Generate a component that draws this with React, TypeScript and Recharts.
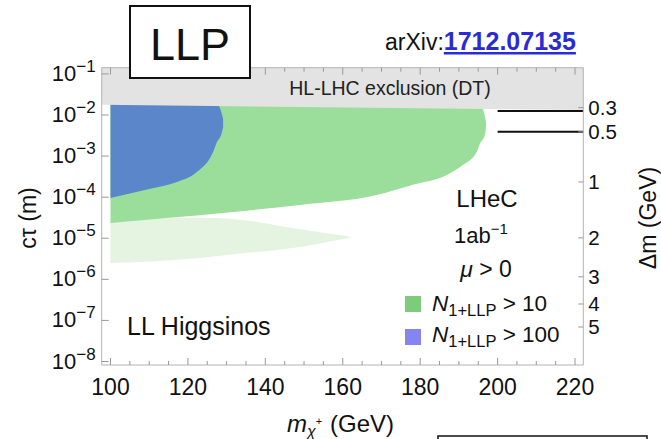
import React from 'react';
import { ComposedChart, Area, XAxis, YAxis, ReferenceLine } from 'recharts';

const FONT = '"Liberation Sans", Arial, Helvetica, sans-serif';

// axis ranges (chargino mass in GeV, log10 of c*tau in metres)
const X_MIN = 97.73;
const X_MAX = 222.14;
const Y_MIN = -8.085;
const Y_MAX = -0.849;

const xTicks = [100, 105, 110, 115, 120, 125, 130, 135, 140, 145, 150, 155, 160, 165, 170, 175, 180, 185, 190, 195, 200, 205, 210, 215, 220];
const yDecades = [-8, -7, -6, -5, -4, -3, -2, -1];

// right axis: mass splitting labels and their log10(c tau) positions
const dmLabels = ['0.3', '0.5', '1', '2', '3', '4', '5'];
const dmLogCt = [-1.82, -2.41, -3.63, -4.99, -5.94, -6.6, -7.16];

// HL-LHC exclusion band (disappearing tracks)
const bandMass = [X_MIN, X_MAX];
const bandLow = [-1.75, -1.88];
const bandHigh = [Y_MAX, Y_MAX];

// N(1+LLP) > 10 region
const greenMass = [100, 114.6, 131.6, 149, 168.8, 178.1, 186.9, 191.0, 194.6, 195.45, 196.7, 197.0];
const greenLow = [-4.63, -4.51, -4.36, -4.19, -3.95, -3.7, -3.46, -3.22, -2.9, -2.7, -2.49, -2.3];
const greenHigh = [-1.72, -1.72, -1.72, -1.72, -1.72, -1.72, -1.72, -1.72, -1.72, -1.72, -2.02, -2.17];

// N(1+LLP) > 100 region
const blueMass = [100, 105, 110, 117.2, 122.3, 126.5, 127.4, 128.7, 129.1];
const blueLow = [-4.02, -3.91, -3.8, -3.63, -3.39, -2.9, -2.68, -2.45, -2.3];
const blueHigh = [-1.72, -1.72, -1.72, -1.72, -1.72, -1.72, -1.72, -1.95, -2.1];

// faint region
const faintMass = [100, 123.1, 131.6, 149, 162.6];
const faintLow = [-5.6, -5.48, -5.39, -5.21, -4.97];
const faintHigh = [-4.55, -4.5, -4.53, -4.78, -4.97];

// contour lines for delta m = 0.3, 0.5
const contourStart = 200;
const contourLogCt = [-1.9, -2.41];

const rows = (ms: number[], lo: number[], hi: number[]) => ms.map((m, i) => ({ m, r: [lo[i], hi[i]] }));

const bandRows = rows(bandMass, bandLow, bandHigh);
const greenRows = rows(greenMass, greenLow, greenHigh);
const blueRows = rows(blueMass, blueLow, blueHigh);
const faintRows = rows(faintMass, faintLow, faintHigh);

const TICK = '#999';
const FRAME = '#b3b3b3';

const BottomTick = (props: any) => {
  const { x, y, payload } = props;
  const v = payload.value;
  const major = v % 20 === 0;
  return (
    <g>
      <line x1={x} x2={x} y1={y} y2={y - (major ? 7 : 4)} stroke={TICK} strokeWidth={1} />
      {major && (
        <text x={x} y={y + 30} textAnchor="middle" fontSize={23} fill="#111" fontFamily={FONT}>
          {v}
        </text>
      )}
    </g>
  );
};

const TopTick = (props: any) => {
  const { x, y, payload } = props;
  const major = payload.value % 20 === 0;
  return <line x1={x} x2={x} y1={y} y2={y + (major ? 7 : 4)} stroke={TICK} strokeWidth={1} />;
};

const LeftTick = (props: any) => {
  const { x, y, payload } = props;
  const v = payload.value;
  return (
    <g>
      <line x1={x} x2={x + 7} y1={y} y2={y} stroke={TICK} strokeWidth={1} />
      <text x={x - 6} y={y + 7} textAnchor="end" fontSize={22} fill="#111" fontFamily={FONT}>
        10
        <tspan fontSize={17} dy={-9}>
          {'\u2212' + Math.abs(v)}
        </tspan>
      </text>
    </g>
  );
};

const RightTick = (props: any) => {
  const { x, y, payload } = props;
  const idx = dmLogCt.indexOf(payload.value);
  return (
    <g>
      <line x1={x} x2={x - 5} y1={y} y2={y} stroke={TICK} strokeWidth={1} />
      <text x={x + 5} y={y + 7} textAnchor="start" fontSize={20.5} fill="#111" fontFamily={FONT}>
        {dmLabels[idx]}
      </text>
    </g>
  );
};

export default function App() {
  return (
    <div style={{ position: 'absolute', left: 0, top: 0, width: 661, height: 439, background: '#fff' }}>
      <ComposedChart
        width={661}
        height={439}
        margin={{ top: 66.7, right: 76.7, bottom: 73, left: 100.7 }}
      >
        <XAxis
          xAxisId="b"
          type="number"
          dataKey="m"
          domain={[X_MIN, X_MAX]}
          allowDataOverflow
          ticks={xTicks}
          interval={0}
          height={1}
          tickSize={0}
          tickMargin={0}
          tick={BottomTick}
          axisLine={{ stroke: FRAME }}
          tickLine={false}
        />
        <XAxis
          xAxisId="t"
          orientation="top"
          type="number"
          dataKey="m"
          domain={[X_MIN, X_MAX]}
          allowDataOverflow
          ticks={xTicks}
          interval={0}
          height={1}
          tickSize={0}
          tickMargin={0}
          tick={TopTick}
          axisLine={{ stroke: FRAME }}
          tickLine={false}
        />
        <YAxis
          yAxisId="l"
          type="number"
          domain={[Y_MIN, Y_MAX]}
          allowDataOverflow
          ticks={yDecades}
          interval={0}
          width={1}
          tickSize={0}
          tickMargin={0}
          tick={LeftTick}
          axisLine={{ stroke: FRAME }}
          tickLine={false}
        />
        <YAxis
          yAxisId="r"
          orientation="right"
          type="number"
          domain={[Y_MIN, Y_MAX]}
          allowDataOverflow
          ticks={dmLogCt}
          interval={0}
          width={1}
          tickSize={0}
          tickMargin={0}
          tick={RightTick}
          axisLine={{ stroke: FRAME }}
          tickLine={false}
        />
        <Area xAxisId="b" yAxisId="l" data={faintRows} dataKey="r" type="monotone" stroke="none" fill="#e4f4e1" fillOpacity={1} isAnimationActive={false} />
        <Area xAxisId="b" yAxisId="l" data={greenRows} dataKey="r" type="monotone" stroke="none" fill="#9bde9b" fillOpacity={1} isAnimationActive={false} />
        <Area xAxisId="b" yAxisId="l" data={blueRows} dataKey="r" type="monotone" stroke="none" fill="#5b86c9" fillOpacity={1} isAnimationActive={false} />
        <Area xAxisId="b" yAxisId="l" data={bandRows} dataKey="r" type="linear" stroke="none" fill="#e3e3e3" fillOpacity={1} isAnimationActive={false} />
        {contourLogCt.map((c) => (
          <ReferenceLine
            key={c}
            xAxisId="b"
            yAxisId="l"
            segment={[{ x: contourStart, y: c }, { x: X_MAX, y: c }]}
            stroke="#111"
            strokeWidth={2}
          />
        ))}
      </ComposedChart>
      <svg
        width={661}
        height={439}
        style={{ position: 'absolute', left: 0, top: 0, pointerEvents: 'none' }}
        fontFamily={FONT}
      >
        <rect x={130} y={6} width={120} height={72} fill="#fff" stroke="#111" strokeWidth={2} />
        <text x={190} y={60} textAnchor="middle" fontSize={45} fill="#111">LLP</text>

        <text x={385} y={50} fontSize={23} fill="#111">
          arXiv:
          <tspan fill="#2b2bd6" fontWeight="bold" fontSize={25} textDecoration="underline">1712.07135</tspan>
        </text>

        <text x={390} y={95} textAnchor="middle" fontSize={19.5} fill="#222">HL-LHC exclusion (DT)</text>

        <text x={487} y={207} textAnchor="middle" fontSize={24} fill="#111">LHeC</text>
        <text x={481} y={243} textAnchor="middle" fontSize={22} fill="#111">
          1ab<tspan fontSize={15} dy={-9}>{'\u22121'}</tspan>
        </text>
        <text x={486} y={277} textAnchor="middle" fontSize={23} fill="#111">
          <tspan fontStyle="italic">μ</tspan> {'>'} 0
        </text>

        <rect x={405} y={296} width={16} height={16} fill="#7ccc7c" />
        <text x={432} y={311} fontSize={22.5} fill="#111">
          <tspan fontStyle="italic">N</tspan>
          <tspan fontSize={16.5} dy={5}>1+LLP</tspan>
          <tspan dy={-5}>{' > 10'}</tspan>
        </text>
        <rect x={405} y={329} width={16} height={16} fill="#8585ef" />
        <text x={432} y={342} fontSize={22.5} fill="#111">
          <tspan fontStyle="italic">N</tspan>
          <tspan fontSize={16.5} dy={5}>1+LLP</tspan>
          <tspan dy={-5}>{' > 100'}</tspan>
        </text>

        <text x={127} y={335} fontSize={25} fill="#111">LL Higgsinos</text>

        <text transform="translate(36,218) rotate(-90)" textAnchor="middle" fontSize={23} fill="#111">cτ (m)</text>
        <text transform="translate(656,218) rotate(-90)" textAnchor="middle" fontSize={23} fill="#111">Δm (GeV)</text>

        <text x={287} y={432} fontSize={24} fill="#111">
          <tspan fontStyle="italic">m</tspan>
          <tspan fontSize={16} fontStyle="italic" dy={5}>χ</tspan>
          <tspan fontSize={11} dy={-12}>+</tspan>
        </text>
        <text x={330} y={432} fontSize={24} fill="#111">(GeV)</text>

        <rect x={438} y={436} width={209} height={20} fill="none" stroke="#111" strokeWidth={1.5} />
      </svg>
    </div>
  );
}
